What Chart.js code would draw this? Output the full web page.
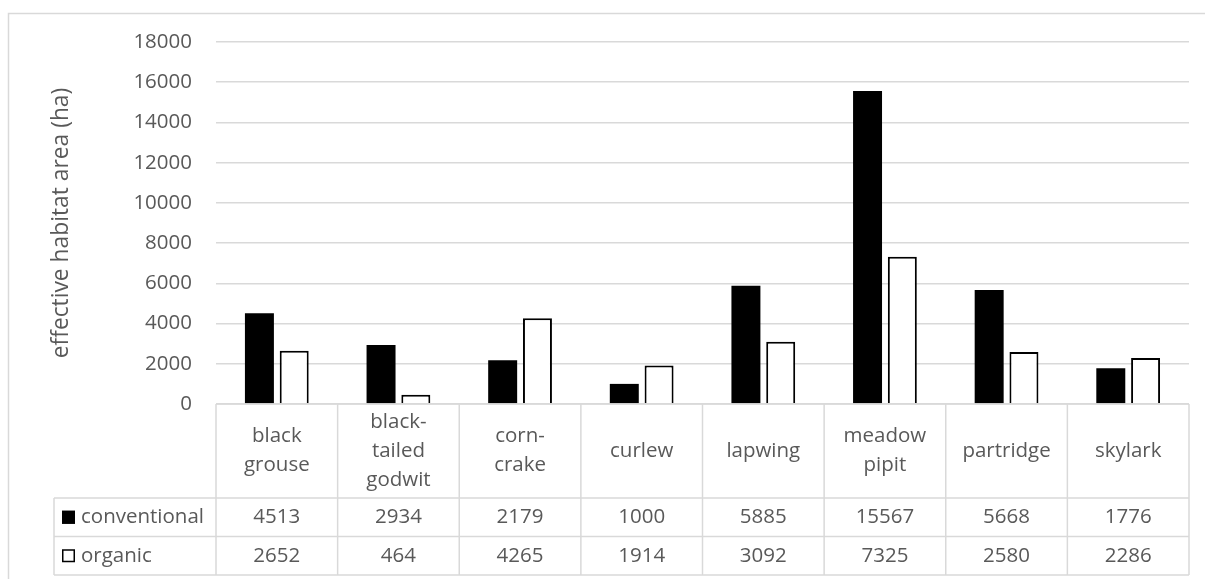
<!DOCTYPE html>
<html>
<head>
<meta charset="utf-8">
<script src="https://cdn.jsdelivr.net/npm/chart.js@4/dist/chart.umd.min.js"></script>
<style>
  html, body { margin: 0; padding: 0; background: #ffffff; }
  #wrap { width: 1205px; height: 579px; position: relative; }
</style>
</head>
<body>
<div id="wrap"><canvas id="chart"></canvas></div>
<script>
// Species (multi-line labels as shown in the table header)
const categories = [
  ["black", "grouse"],
  ["black-", "tailed", "godwit"],
  ["corn-", "crake"],
  ["curlew"],
  ["lapwing"],
  ["meadow", "pipit"],
  ["partridge"],
  ["skylark"]
];
const seriesNames = ["conventional", "organic"];
const conventional = [4513, 2934, 2179, 1000, 5885, 15567, 5668, 1776];
const organic = [2652, 464, 4265, 1914, 3092, 7325, 2580, 2286];
const yMin = 0;
const yMax = 18000;
const yStep = 2000;
const yTitle = "effective habitat area (ha)";

const FONT = "'Open Sans'";
const FONT_SIZE = 20.5;
const TITLE_SIZE = 22.8;
const TEXT = "#595959";
const GRID = "#d9d9d9";

// Light frame around the whole chart object
const chartFrame = {
  id: "chartFrame",
  beforeDraw(chart) {
    const { ctx } = chart;
    ctx.save();
    ctx.strokeStyle = GRID;
    ctx.lineWidth = 1.5;
    ctx.strokeRect(8.5, 13.5, chart.width + 20, chart.height + 20);
    ctx.restore();
  }
};

// Data table under the plot: category header row, then one row per series with its legend key
const dataTable = {
  id: "dataTable",
  afterDraw(chart, args, opts) {
    const { ctx, chartArea } = chart;
    const xs = chart.scales.x;
    const n = chart.data.labels.length;
    const colW = (chartArea.right - chartArea.left) / n;
    const top = chartArea.bottom;
    const headBottom = top + opts.headerHeight;
    const rows = chart.data.datasets.length;
    const bottom = headBottom + rows * opts.rowHeight;
    const left = chartArea.left;
    const right = chartArea.right;

    const line = (x1, y1, x2, y2) => {
      ctx.beginPath();
      ctx.moveTo(x1, y1);
      ctx.lineTo(x2, y2);
      ctx.stroke();
    };

    ctx.save();
    ctx.strokeStyle = GRID;
    ctx.lineWidth = opts.lineWidth;
    line(left, top, right, top);
    for (let r = 0; r <= rows; r++) {
      const y = headBottom + r * opts.rowHeight;
      line(opts.legendLeft, y, right, y);
    }
    for (let i = 0; i < n; i++) {
      const x = xs.getPixelForValue(i) - colW / 2;
      line(x, top, x, bottom);
    }
    line(right, top, right, bottom);
    line(opts.legendLeft, headBottom, opts.legendLeft, bottom);

    ctx.fillStyle = TEXT;
    ctx.font = opts.fontSize + "px " + FONT;
    ctx.textAlign = "center";
    ctx.textBaseline = "middle";

    // header: species names
    const headMid = (top + headBottom) / 2 + opts.textShift;
    chart.data.labels.forEach((lab, i) => {
      const cx = xs.getPixelForValue(i);
      const linesArr = Array.isArray(lab) ? lab : [lab];
      const y0 = headMid - (linesArr.length - 1) * opts.lineSpacing / 2;
      linesArr.forEach((t, k) => ctx.fillText(t, cx, y0 + k * opts.lineSpacing));
    });

    // series rows
    chart.data.datasets.forEach((ds, r) => {
      const cy = headBottom + (r + 0.5) * opts.rowHeight + opts.textShift;
      ctx.textAlign = "center";
      ds.data.forEach((v, i) => {
        ctx.fillText(String(v), xs.getPixelForValue(i), cy);
      });
      // legend key
      const s = opts.keySize;
      const kx = opts.legendLeft + opts.keyInset;
      const ky = headBottom + (r + 0.5) * opts.rowHeight - s / 2;
      ctx.fillStyle = ds.backgroundColor;
      ctx.fillRect(kx, ky, s, s);
      ctx.strokeStyle = "#000000";
      ctx.lineWidth = 1.5;
      ctx.strokeRect(kx + 0.75, ky + 0.75, s - 1.5, s - 1.5);
      ctx.fillStyle = TEXT;
      ctx.textAlign = "left";
      ctx.fillText(ds.label, kx + s + opts.keyGap, cy);
    });
    ctx.restore();
  }
};

new Chart(document.getElementById("chart"), {
  type: "bar",
  data: {
    labels: categories,
    datasets: [
      {
        label: seriesNames[0],
        data: conventional,
        backgroundColor: "#000000",
        borderColor: "#000000",
        borderWidth: 0
      },
      {
        label: seriesNames[1],
        data: organic,
        backgroundColor: "#ffffff",
        borderColor: "#000000",
        borderWidth: 2
      }
    ]
  },
  options: {
    responsive: true,
    maintainAspectRatio: false,
    animation: false,
    events: [],
    layout: { padding: { left: 0, top: 42, right: 16, bottom: 175 } },
    datasets: {
      bar: { categoryPercentage: 0.572, barPercentage: 0.833 }
    },
    plugins: {
      legend: { display: false },
      tooltip: { enabled: false },
      dataTable: {
        headerHeight: 94,
        rowHeight: 38.5,
        legendLeft: 54,
        lineWidth: 1.5,
        fontSize: FONT_SIZE,
        lineSpacing: 29,
        textShift: 0,
        keySize: 13,
        keyInset: 8,
        keyGap: 6
      }
    },
    scales: {
      x: { display: false },
      y: {
        min: yMin,
        max: yMax,
        afterFit(scale) { scale.width = 216; },
        border: { display: false },
        grid: { color: GRID, lineWidth: 1.5, drawTicks: false },
        ticks: {
          stepSize: yStep,
          padding: 24,
          color: TEXT,
          font: { family: FONT, size: FONT_SIZE },
          callback: (v) => String(v)
        },
        title: {
          display: true,
          text: yTitle,
          color: TEXT,
          font: { family: FONT, size: TITLE_SIZE },
          padding: { top: 48.3, bottom: 0 }
        }
      }
    }
  },
  plugins: [chartFrame, dataTable]
});
</script>
</body>
</html>
